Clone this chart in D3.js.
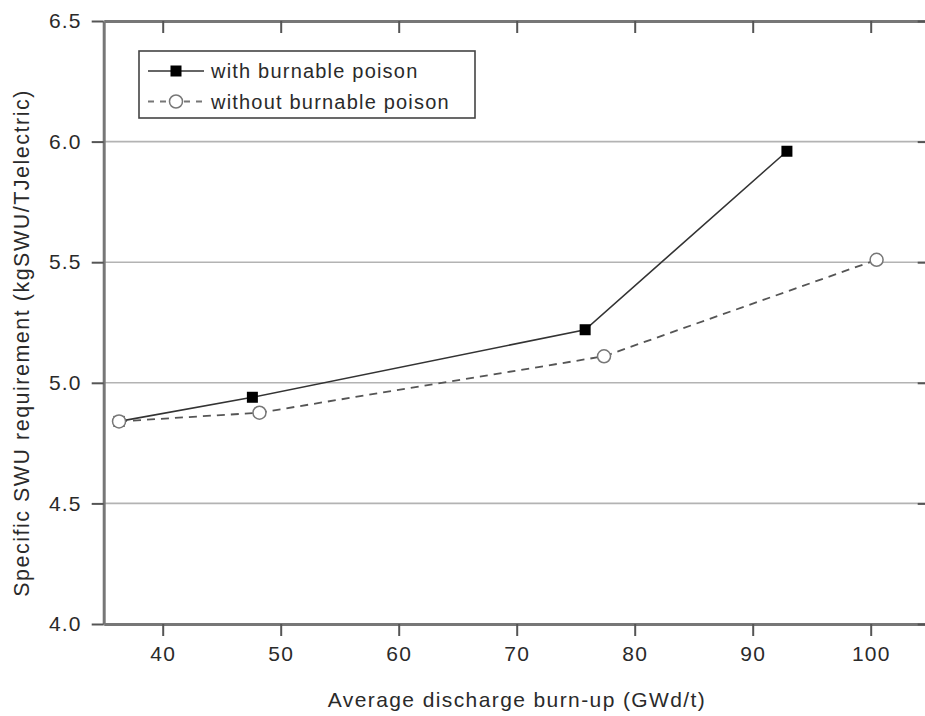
<!DOCTYPE html>
<html>
<head>
<meta charset="utf-8">
<script src="https://cdn.jsdelivr.net/npm/d3@7/dist/d3.min.js"></script>
<style>
  html, body { margin: 0; padding: 0; background: #fff; }
  svg { display: block; }
  text { font-family: "Liberation Sans", Arial, Helvetica, sans-serif; fill: #2a2a2a; }
</style>
</head>
<body>
<svg id="chart" width="925" height="716"></svg>
<script>
// Burn-up (GWd/t) and specific SWU requirement (kgSWU/TJelectric)
const withPoisonBurnup = [36.3, 47.6, 75.8, 92.9];
const withPoisonSWU    = [4.84, 4.94, 5.22, 5.96];
const withoutPoisonBurnup = [36.3, 48.2, 77.4, 100.5];
const withoutPoisonSWU    = [4.84, 4.876, 5.11, 5.51];

const seriesNames = ["with burnable poison", "without burnable poison"];
const xTicks = [40, 50, 60, 70, 80, 90, 100];
const yTicks = [4.0, 4.5, 5.0, 5.5, 6.0, 6.5];
const yGrid  = [4.5, 5.0, 5.5, 6.0];
const xTitle = "Average discharge burn-up (GWd/t)";
const yTitle = "Specific SWU requirement (kgSWU/TJelectric)";

const svg = d3.select("#chart");
const plotLeft = 103.7, plotRight = 929.7, plotTop = 21, plotBottom = 624;

const x = d3.scaleLinear().domain([35, 105]).range([plotLeft, plotRight]);
const y = d3.scaleLinear().domain([4.0, 6.5]).range([plotBottom, plotTop]);

const axisColor = "#777";
const fontSize = 21;

// horizontal grid lines
svg.append("g").selectAll("line").data(yGrid).join("line")
  .attr("x1", plotLeft).attr("x2", plotRight)
  .attr("y1", d => y(d)).attr("y2", d => y(d))
  .attr("stroke", "#b3b3b3").attr("stroke-width", 1.6);

function styleAxis(g) {
  g.select(".domain").attr("stroke", axisColor).attr("stroke-width", 3);
  g.selectAll(".tick line").attr("stroke", "#555").attr("stroke-width", 2);
  g.selectAll(".tick text")
    .attr("font-size", fontSize)
    .attr("letter-spacing", 1.2)
    .attr("fill", "#2a2a2a")
    .attr("font-family", "Liberation Sans, Arial, sans-serif");
}

svg.append("g").attr("transform", `translate(0,${plotBottom})`)
  .call(d3.axisBottom(x).tickValues(xTicks).tickSize(12).tickSizeOuter(0).tickPadding(10).tickFormat(d3.format("d")))
  .call(styleAxis);

svg.append("g").attr("transform", `translate(0,${plotTop})`)
  .call(d3.axisTop(x).tickValues(xTicks).tickSize(-12).tickSizeOuter(0).tickFormat(""))
  .call(styleAxis);

svg.append("g").attr("transform", `translate(${plotLeft},0)`)
  .call(d3.axisLeft(y).tickValues(yTicks).tickSize(12).tickSizeOuter(0).tickPadding(10).tickFormat(d3.format(".1f")))
  .call(styleAxis);

svg.append("g").attr("transform", `translate(${plotRight},0)`)
  .call(d3.axisRight(y).tickValues(yTicks).tickSize(-12).tickSizeOuter(0).tickFormat(""))
  .call(styleAxis);

// axis titles
svg.append("text")
  .attr("x", 517).attr("y", 707)
  .attr("text-anchor", "middle")
  .attr("font-size", fontSize).attr("letter-spacing", 1.4)
  .text(xTitle);

svg.append("text")
  .attr("transform", "translate(29,343) rotate(-90)")
  .attr("text-anchor", "middle")
  .attr("font-size", 21.5).attr("letter-spacing", 1.5)
  .text(yTitle);

// series
const withPts = withPoisonBurnup.map((b, i) => [b, withPoisonSWU[i]]);
const withoutPts = withoutPoisonBurnup.map((b, i) => [b, withoutPoisonSWU[i]]);
const line = d3.line().x(d => x(d[0])).y(d => y(d[1]));

svg.append("path").datum(withoutPts)
  .attr("d", line).attr("fill", "none")
  .attr("stroke", "#555").attr("stroke-width", 1.8)
  .attr("stroke-dasharray", "8,6");

svg.append("path").datum(withPts)
  .attr("d", line).attr("fill", "none")
  .attr("stroke", "#333").attr("stroke-width", 1.6);

const sq = 11;
svg.append("g").selectAll("rect").data(withPts).join("rect")
  .attr("x", d => x(d[0]) - sq / 2).attr("y", d => y(d[1]) - sq / 2)
  .attr("width", sq).attr("height", sq).attr("fill", "#000");

svg.append("g").selectAll("circle").data(withoutPts).join("circle")
  .attr("cx", d => x(d[0])).attr("cy", d => y(d[1])).attr("r", 6.5)
  .attr("fill", "#fff").attr("stroke", "#777").attr("stroke-width", 1.5);

// legend
const lg = svg.append("g");
lg.append("rect").attr("x", 139).attr("y", 51).attr("width", 336).attr("height", 67)
  .attr("fill", "#fff").attr("stroke", "#444").attr("stroke-width", 1.6);

const rowY = [71, 101.5];
lg.append("line").attr("x1", 148).attr("x2", 204).attr("y1", rowY[0]).attr("y2", rowY[0])
  .attr("stroke", "#333").attr("stroke-width", 1.6);
lg.append("rect").attr("x", 176 - sq / 2).attr("y", rowY[0] - sq / 2)
  .attr("width", sq).attr("height", sq).attr("fill", "#000");
lg.append("line").attr("x1", 148).attr("x2", 204).attr("y1", rowY[1]).attr("y2", rowY[1])
  .attr("stroke", "#777").attr("stroke-width", 1.8).attr("stroke-dasharray", "6,6");
lg.append("circle").attr("cx", 176).attr("cy", rowY[1]).attr("r", 6.5)
  .attr("fill", "#fff").attr("stroke", "#777").attr("stroke-width", 1.5);

lg.selectAll("text.lab").data(seriesNames).join("text")
  .attr("class", "lab")
  .attr("x", 211).attr("y", (d, i) => rowY[i])
  .attr("dy", "0.35em")
  .attr("font-size", 20).attr("letter-spacing", 1.2)
  .text(d => d);
</script>
</body>
</html>
